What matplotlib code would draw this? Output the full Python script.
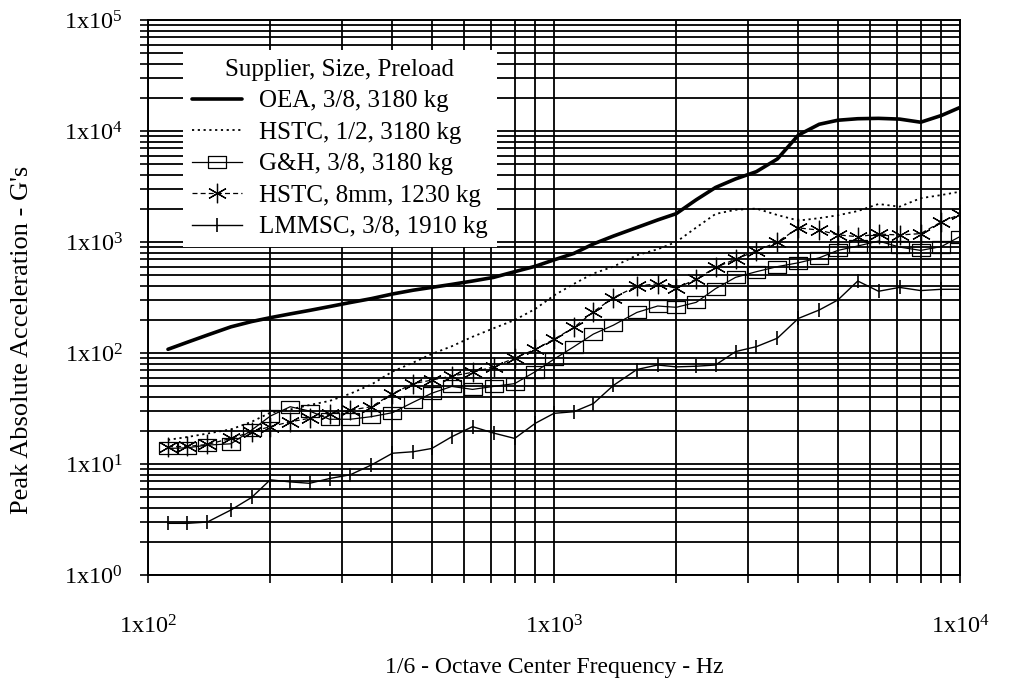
import matplotlib
matplotlib.use("Agg")
import matplotlib.pyplot as plt
from matplotlib.ticker import FixedLocator, LogLocator, NullFormatter, FixedFormatter

plt.rcParams['font.family'] = ['Liberation Serif', 'DejaVu Serif']
plt.rcParams['mathtext.fontset'] = 'custom'
plt.rcParams['mathtext.rm'] = 'Liberation Serif'
plt.rcParams['mathtext.it'] = 'Liberation Serif:italic'
plt.rcParams['mathtext.bf'] = 'Liberation Serif:bold'

# 1/6-octave centre frequencies (Hz)
freq = [112, 125, 140, 160, 180, 200, 224, 250, 280, 315,
        355, 400, 450, 500, 560, 630, 710, 800, 900, 1000,
        1120, 1250, 1400, 1600, 1800, 2000, 2240, 2500, 2800, 3150,
        3550, 4000, 4500, 5000, 5600, 6300, 7100, 8000, 9000, 10000]

oea_38_3180 = [108, 125, 145, 172, 192, 208, 225, 242, 262, 285,
               309, 340, 368, 390, 415, 445, 480, 540, 605, 690,
               790, 960, 1130, 1350, 1580, 1800, 2400, 3100, 3700, 4300,
               5600, 9200, 11500, 12500, 12900, 13000, 12800, 12000, 13800, 16300]

hstc_12_3180 = [16.5, 17.5, 18.8, 20.5, 24, 29, 31, 34, 37, 43,
                52, 68, 82, 98, 115, 140, 167, 198, 250, 330,
                420, 520, 600, 760, 860, 1000, 1350, 1790, 1950, 2000,
                1750, 1560, 1640, 1740, 1900, 2200, 2080, 2480, 2650, 2840]

gh_38_3180 = [13.8, 14.0, 14.8, 15.2, 20.2, 27, 32.8, 30, 25.3, 25.3,
              26.7, 29, 36, 43.4, 50, 47, 50, 53, 68, 88,
              114, 148, 178, 232, 265, 258, 286, 380, 480, 540,
              600, 650, 720, 840, 920, 1020, 900, 840, 910, 1120]

hstc_8mm_1230 = [14.3, 14.4, 15.0, 17, 19.5, 21.7, 24, 25.8, 28, 30.6,
                 32.8, 43, 53, 57, 62, 67, 75, 90, 108, 133,
                 170, 235, 315, 400, 420, 383, 462, 590, 700, 830,
                 1000, 1340, 1280, 1160, 1116, 1180, 1156, 1190, 1520, 1770]

lmmsc_38_1910 = [2.92, 2.92, 3.0, 3.85, 5.0, 7.2, 6.9, 6.7, 7.4, 8.0,
                 9.8, 12.5, 12.9, 13.8, 17.6, 21.7, 19, 17, 23.3, 28.6,
                 29.6, 35, 51, 71, 78, 75, 76, 78, 103, 114,
                 136, 205, 244, 300, 445, 360, 390, 365, 375, 375]

legend_title = "Supplier, Size, Preload"
labels = ["OEA, 3/8, 3180 kg", "HSTC, 1/2, 3180 kg", "G&H, 3/8, 3180 kg",
          "HSTC, 8mm, 1230 kg", "LMMSC, 3/8, 1910 kg"]

x_ticks = [1e2, 1e3, 1e4]
x_tick_labels = [r"1x10$^{2}$", r"1x10$^{3}$", r"1x10$^{4}$"]
y_ticks = [1e0, 1e1, 1e2, 1e3, 1e4, 1e5]
y_tick_labels = [r"1x10$^{0}$", r"1x10$^{1}$", r"1x10$^{2}$",
                 r"1x10$^{3}$", r"1x10$^{4}$", r"1x10$^{5}$"]

fig = plt.figure(figsize=(10.15, 6.82), dpi=100)
ax = fig.add_axes([148 / 1015, 107 / 682, 812 / 1015, 555 / 682])
ax.set_xscale('log')
ax.set_yscale('log')
ax.set_xlim(1e2, 1e4)
ax.set_ylim(1e0, 1e5)

rect = [(-1.4, -1), (1.4, -1), (1.4, 1), (-1.4, 1), (-1.4, -1)]

ax.plot(freq, oea_38_3180, color='black', lw=2.6, solid_capstyle='round',
        label=labels[0], zorder=5)
ax.plot(freq, hstc_12_3180, color='black', lw=1.3, linestyle=(0, (1.2, 2.0)),
        label=labels[1], zorder=5)
ax.plot(freq, gh_38_3180, color='black', lw=0.9, marker=rect, markersize=12.5,
        markerfacecolor='none', markeredgecolor='black', markeredgewidth=0.9,
        label=labels[2], zorder=5)
ax.plot(freq, hstc_8mm_1230, color='black', lw=0.9, linestyle=(0, (4, 2.5)),
        marker=(6, 2, 0), markersize=14, markeredgewidth=0.9,
        markeredgecolor='black', label=labels[3], zorder=5)
ax.plot(freq, lmmsc_38_1910, color='black', lw=1.0, marker='|', markersize=10,
        markeredgewidth=1.2, label=labels[4], zorder=5)

ax.grid(True, which='both', color='black', lw=1.3, zorder=1)
ax.set_axisbelow(True)
for s in ax.spines.values():
    s.set_linewidth(1.4)

ax.xaxis.set_major_locator(FixedLocator(x_ticks))
ax.xaxis.set_major_formatter(FixedFormatter(x_tick_labels))
ax.xaxis.set_minor_locator(LogLocator(base=10, subs=range(2, 10), numticks=20))
ax.xaxis.set_minor_formatter(NullFormatter())
ax.yaxis.set_major_locator(FixedLocator(y_ticks))
ax.yaxis.set_major_formatter(FixedFormatter(y_tick_labels))
ax.yaxis.set_minor_locator(LogLocator(base=10, subs=range(2, 10), numticks=20))
ax.yaxis.set_minor_formatter(NullFormatter())

ax.tick_params(axis='both', which='both', direction='out', length=6, width=1.2,
               color='black')
ax.tick_params(axis='x', which='major', pad=23, labelsize=17.5)
ax.tick_params(axis='y', which='major', pad=12, labelsize=17.5)

ax.set_xlabel("1/6 - Octave Center Frequency - Hz", fontsize=17)
ax.set_ylabel("Peak Absolute Acceleration - G's", fontsize=19)
ax.xaxis.set_label_coords(0.5, -(668 - 575) / 555)
ax.xaxis.label.set_va('center')
ax.yaxis.set_label_coords((22 - 148) / 812, (575 - 340) / 555)
ax.yaxis.label.set_va('center')

leg = ax.legend(title=legend_title, loc='upper left',
                bbox_to_anchor=((183 - 148) / 812, (575 - 50) / 555),
                borderaxespad=0, fontsize=18, title_fontsize=18,
                frameon=True, fancybox=False, framealpha=1,
                handlelength=2.0, handletextpad=0.7, labelspacing=0.36,
                borderpad=0.35)
leg.get_frame().set_edgecolor('white')
leg.get_frame().set_linewidth(0)
leg.set_zorder(10)

fig.savefig("out.png", dpi=100, facecolor='white')
